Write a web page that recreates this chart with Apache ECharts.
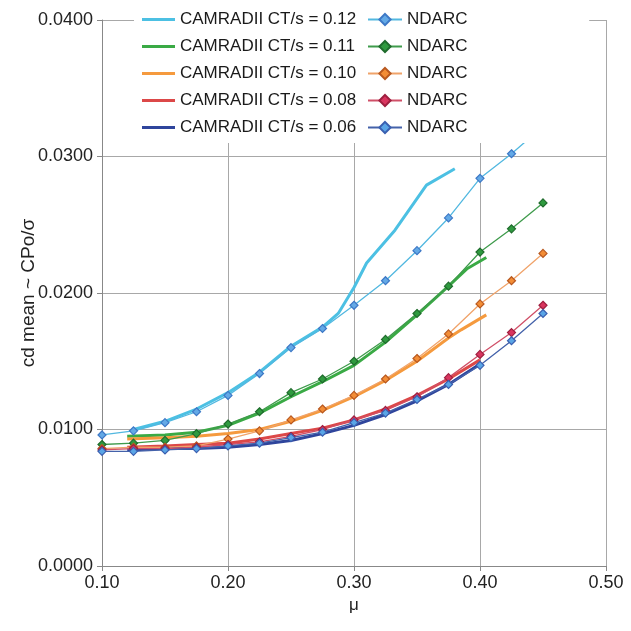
<!DOCTYPE html>
<html><head><meta charset="utf-8">
<script src="https://cdn.jsdelivr.net/npm/echarts@6/dist/echarts.min.js"></script>
<style>html,body{margin:0;padding:0;background:#fff}#c{width:631px;height:631px}</style>
</head><body><div id="c"></div>
<script>
// NDARC points
const muNdarc = [0.10,0.125,0.15,0.175,0.20,0.225,0.25,0.275,0.30,0.325,0.35,0.375,0.40,0.425,0.45];
const ndarc012 = [0.0096,0.0099,0.0105,0.0113,0.0125,0.0141,0.0160,0.0174,0.0191,0.0209,0.0231,0.0255,0.0284,0.0302,0.0322];
const ndarc011 = [0.0089,0.0090,0.0092,0.0097,0.0104,0.0113,0.0127,0.0137,0.0150,0.0166,0.0185,0.0205,0.0230,0.0247,0.0266];
const ndarc010 = [0.0086,0.0087,0.0087,0.0088,0.0093,0.0099,0.0107,0.0115,0.0125,0.0137,0.0152,0.0170,0.0192,0.0209,0.0229];
const ndarc008 = [0.0085,0.0086,0.0086,0.0087,0.0089,0.0091,0.0095,0.0100,0.0107,0.0114,0.0124,0.0138,0.0155,0.0171,0.0191];
const ndarc006 = [0.0084,0.0084,0.0085,0.0086,0.0088,0.0090,0.0094,0.0098,0.0105,0.0112,0.0122,0.0133,0.0147,0.0165,0.0185];
// CAMRADII curves
const muCam012 = [0.125,0.15,0.175,0.20,0.225,0.25,0.275,0.2875,0.30,0.31,0.3325,0.3575,0.38];
const cam012   = [0.0100,0.0106,0.0115,0.0127,0.0142,0.0161,0.0175,0.0185,0.0204,0.0222,0.0246,0.0279,0.0291];
const muCam011 = [0.12,0.15,0.175,0.20,0.225,0.25,0.275,0.30,0.325,0.35,0.375,0.39,0.405];
const cam011   = [0.0095,0.0096,0.0098,0.0103,0.0112,0.0124,0.0135,0.0147,0.0164,0.0184,0.0205,0.0218,0.0226];
const muCam010 = [0.12,0.15,0.175,0.20,0.225,0.25,0.275,0.30,0.325,0.35,0.375,0.385,0.405];
const cam010   = [0.0093,0.0094,0.0095,0.0097,0.0100,0.0106,0.0114,0.0124,0.0136,0.0150,0.0167,0.0173,0.0184];
const muCamLow = [0.12,0.15,0.175,0.20,0.225,0.25,0.275,0.30,0.325,0.35,0.375,0.40];
const cam008   = [0.0087,0.0088,0.0089,0.0090,0.0093,0.0097,0.0101,0.0107,0.0115,0.0125,0.0137,0.0151];
const cam006   = [0.0085,0.0086,0.0086,0.0087,0.0089,0.0092,0.0097,0.0103,0.0111,0.0121,0.0133,0.0148];
const camNames = ['CAMRADII CT/s = 0.12','CAMRADII CT/s = 0.11','CAMRADII CT/s = 0.10','CAMRADII CT/s = 0.08','CAMRADII CT/s = 0.06'];
const ndarcNames = ['NDARC (0.12)','NDARC (0.11)','NDARC (0.10)','NDARC (0.08)','NDARC (0.06)'];
const ndarcLabel = 'NDARC';
const xTicks = [0.10,0.20,0.30,0.40,0.50];
const yTicks = [0.0000,0.0100,0.0200,0.0300,0.0400];

const zip = (a,b) => a.map((v,i)=>[v,b[i]]);
const font = '"Liberation Sans", Arial, sans-serif';

function cam(name, mu, vals, color){
  return {name, type:'line', data: zip(mu, vals), showSymbol:false, symbol:'none',
    lineStyle:{color, width:3}, itemStyle:{color}, z:2};
}
function nd(name, mu, vals, lineColor, fill, border){
  return {name, type:'line', data: zip(mu, vals), symbol:'diamond', symbolSize:8,
    lineStyle:{color:lineColor, width:1.3}, itemStyle:{color:fill, borderColor:border, borderWidth:1.2}, z:3};
}
const series = [
  cam(camNames[0], muCam012, cam012, '#4cc0e3'),
  cam(camNames[1], muCam011, cam011, '#3aaa45'),
  cam(camNames[2], muCam010, cam010, '#f59a3e'),
  cam(camNames[3], muCamLow, cam008, '#dc4848'),
  cam(camNames[4], muCamLow, cam006, '#2f459c'),
  nd(ndarcNames[0], muNdarc, ndarc012, '#52b8e0', '#63a9e6', '#3d78c6'),
  nd(ndarcNames[1], muNdarc, ndarc011, '#3f9b4c', '#2f9a3f', '#1f6b2c'),
  nd(ndarcNames[2], muNdarc, ndarc010, '#f0a36a', '#f38d36', '#b8581f'),
  nd(ndarcNames[3], muNdarc, ndarc008, '#d05068', '#d9355f', '#9e1f3f'),
  nd(ndarcNames[4], muNdarc, ndarc006, '#4462aa', '#5aa5e6', '#3a5fb0'),
];

const chart = echarts.init(document.getElementById('c'), null, {renderer:'canvas'});
chart.setOption({
  animation:false,
  backgroundColor:'#fff',
  grid:{left:102, right:25, top:20, bottom:65},
  legend:[
    {data:camNames, orient:'vertical', left:134, top:3, itemGap:10, itemWidth:33, itemHeight:3, icon:'rect',
     padding:[8,233,7,8], backgroundColor:'#fff',
     textStyle:{fontFamily:font, fontSize:17, color:'#1a1a1a'}, selectedMode:false},
    {data:ndarcNames, orient:'vertical', left:367, top:3, itemGap:10, itemWidth:34, itemHeight:14,
     padding:[8,0,7,0], formatter:()=>ndarcLabel,
     textStyle:{fontFamily:font, fontSize:17, color:'#1a1a1a'}, selectedMode:false}
  ],
  xAxis:{type:'value', min:xTicks[0], max:xTicks[xTicks.length-1], interval:0.1,
    name:'μ', nameLocation:'middle', nameGap:31, nameMoveOverlap:false,
    nameTextStyle:{fontFamily:font, fontSize:17, color:'#222'},
    axisLine:{lineStyle:{color:'#888', width:1}}, axisTick:{show:true, length:5, lineStyle:{color:'#888'}},
    axisLabel:{fontFamily:font, fontSize:18, color:'#222', margin:8, formatter:v=>v.toFixed(2)},
    splitLine:{show:true, lineStyle:{color:'#a8a8a8', width:1}}},
  yAxis:{type:'value', min:yTicks[0], max:yTicks[yTicks.length-1], interval:0.01,
    name:'cd mean ~ CPo/σ', nameLocation:'middle', nameGap:64, nameMoveOverlap:false,
    nameTextStyle:{fontFamily:font, fontSize:19, color:'#222'},
    axisLine:{show:true, lineStyle:{color:'#888', width:1}}, axisTick:{show:true, length:5, lineStyle:{color:'#888'}},
    axisLabel:{fontFamily:font, fontSize:18, color:'#222', margin:9, formatter:v=>v.toFixed(4)},
    splitLine:{show:true, lineStyle:{color:'#a8a8a8', width:1}}},
  series
});
</script></body></html>
